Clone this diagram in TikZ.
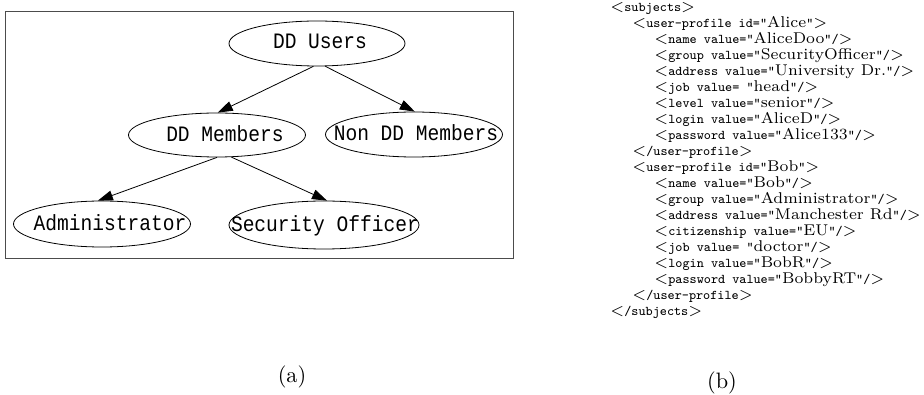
\documentclass[tikz,border=0pt]{standalone}
\usepackage{fontspec}
\newfontfamily\courierfont{Liberation Mono}
\usetikzlibrary{arrows.meta,shapes.geometric}
\newcommand{\xtt}[1]{{\fontsize{6}{7}\selectfont\ttfamily #1}}
\newcommand{\xlt}{$<$}
\newcommand{\xgt}{$>$}
\tikzset{
  ell/.style={draw, ellipse, inner sep=0pt, line width=0.8pt},
  glabel/.style={anchor=base, inner sep=0pt, xscale=0.89, font=\fontsize{22}{24}\selectfont\courierfont},
  edge/.style={line width=0.8pt, -{Triangle[length=15pt,width=10pt]}},
  frame/.style={draw=black!70, line width=0.8pt},
  xml/.style={anchor=base west, inner sep=0pt, scale=2.23, font=\fontsize{7}{8}\selectfont},
  subcap/.style={anchor=center, inner sep=0pt, scale=2.23, font=\fontsize{10}{12}\selectfont},
}
\begin{document}
\begin{tikzpicture}[x=1pt,y=-1pt]
\useasboundingbox (0,0) rectangle (924,395);
\draw[frame] (5,11) rectangle (513,258);
% ellipses
\node[ell, minimum width=176pt, minimum height=45pt] (u) at (317,43.5) {};
\node[ell, minimum width=177pt, minimum height=44pt] (m) at (217,135) {};
\node[ell, minimum width=177pt, minimum height=45pt] (n) at (414,134.5) {};
\node[ell, minimum width=177pt, minimum height=46pt] (a) at (102,224) {};
\node[ell, minimum width=190pt, minimum height=48pt] (s) at (324,225) {};
% labels
\node[glabel] (tu) at (320,49) {DD Users};
\node[glabel] (tm) at (225,141.7) {DD Members};
\node[glabel] (tn) at (416,141) {Non DD Members};
\node[glabel] (ta) at (110,230.7) {Administrator};
\node[glabel] (ts) at (325,232) {Security Officer};
% edges
\draw[edge] (u.261) -- (m.88);
\draw[edge] (u.290) -- (n.88);
\draw[edge] (m.270) -- (a.100);
\draw[edge] (m.303) -- (s.83);
% XML listing
\node[xml] (l0) at (610,11.7) {\xlt\xtt{subjects}\xgt};
\node[xml] (l1) at (632,27.7) {\xlt\xtt{user-profile id="}Alice\xtt{"}\xgt};
\node[xml] (l2) at (654,43.7) {\xlt\xtt{name value="}AliceDoo\xtt{"/}\xgt};
\node[xml] (l3) at (654,59.7) {\xlt\xtt{group value="}SecurityOfficer\xtt{"/}\xgt};
\node[xml] (l4) at (654,75.7) {\xlt\xtt{address value="}University Dr.\xtt{"/}\xgt};
\node[xml] (l5) at (654,91.7) {\xlt\xtt{job value= "}head\xtt{"/}\xgt};
\node[xml] (l6) at (654,107.7) {\xlt\xtt{level value="}senior\xtt{"/}\xgt};
\node[xml] (l7) at (654,123.7) {\xlt\xtt{login value="}AliceD\xtt{"/}\xgt};
\node[xml] (l8) at (654,139.7) {\xlt\xtt{password value="}Alice133\xtt{"/}\xgt};
\node[xml] (l9) at (632,155.7) {\xlt\xtt{/user-profile}\xgt};
\node[xml] (l10) at (632,171.7) {\xlt\xtt{user-profile id="}Bob\xtt{"}\xgt};
\node[xml] (l11) at (654,187.7) {\xlt\xtt{name value="}Bob\xtt{"/}\xgt};
\node[xml] (l12) at (654,203.7) {\xlt\xtt{group value="}Administrator\xtt{"/}\xgt};
\node[xml] (l13) at (654,219.7) {\xlt\xtt{address value="}Manchester Rd\xtt{"/}\xgt};
\node[xml] (l14) at (654,235.7) {\xlt\xtt{citizenship value="}EU\xtt{"/}\xgt};
\node[xml] (l15) at (654,251.7) {\xlt\xtt{job value= "}doctor\xtt{"/}\xgt};
\node[xml] (l16) at (654,267.7) {\xlt\xtt{login value="}BobR\xtt{"/}\xgt};
\node[xml] (l17) at (654,283.7) {\xlt\xtt{password value="}BobbyRT\xtt{"/}\xgt};
\node[xml] (l18) at (632,299.7) {\xlt\xtt{/user-profile}\xgt};
\node[xml] (l19) at (610,315.7) {\xlt\xtt{/subjects}\xgt};
% captions
\node[subcap] (ca) at (292,377) {(a)};
\node[subcap] (cb) at (722,383) {(b)};
\end{tikzpicture}
\end{document}
